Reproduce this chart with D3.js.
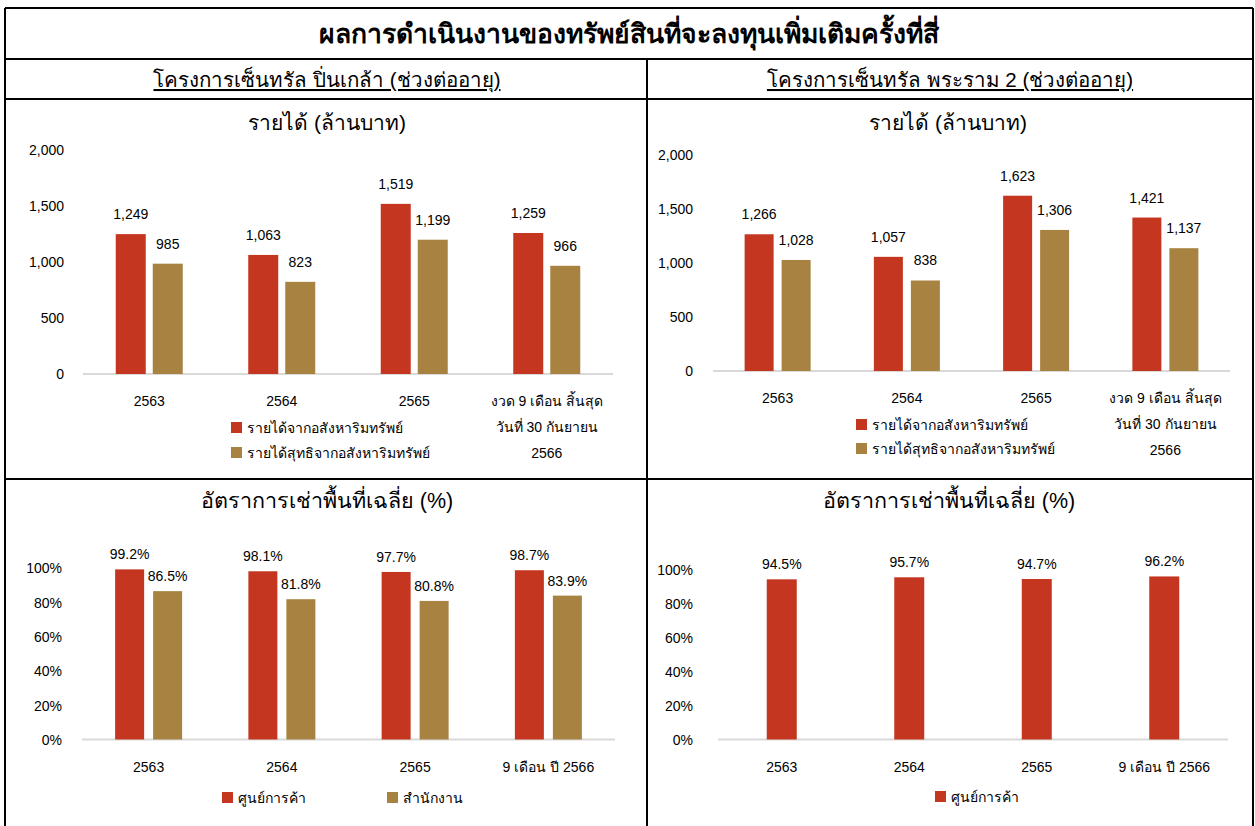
<!DOCTYPE html>
<html>
<head>
<meta charset="utf-8">
<script src="https://cdn.jsdelivr.net/npm/d3@7"></script>
<style>
html,body{margin:0;padding:0;background:#fff;}
svg{display:block;}
text{font-family:"Liberation Sans",Arial,"Noto Sans",sans-serif;fill:#000;}
</style>
</head>
<body>
<svg id="chart" width="1255" height="826"></svg>
<script>
// ---------- data ----------
const mainTitle = "ผลการดำเนินงานของทรัพย์สินที่จะลงทุนเพิ่มเติมครั้งที่สี่";
const projectTitles = ["โครงการเซ็นทรัล ปิ่นเกล้า (ช่วงต่ออายุ)", "โครงการเซ็นทรัล พระราม 2 (ช่วงต่ออายุ)"];
const revenueTitle = "รายได้ (ล้านบาท)";
const occupancyTitle = "อัตราการเช่าพื้นที่เฉลี่ย (%)";

const revenueCategories = [["2563"], ["2564"], ["2565"], ["งวด 9 เดือน สิ้นสุด", "วันที่ 30 กันยายน", "2566"]];
const occupancyCategories = ["2563", "2564", "2565", "9 เดือน ปี 2566"];

const revenueSeriesNames = ["รายได้จากอสังหาริมทรัพย์", "รายได้สุทธิจากอสังหาริมทรัพย์"];
const occupancySeriesNames = ["ศูนย์การค้า", "สำนักงาน"];

const pinklaoRevenue = [1249, 1063, 1519, 1259];
const pinklaoNetRevenue = [985, 823, 1199, 966];
const rama2Revenue = [1266, 1057, 1623, 1421];
const rama2NetRevenue = [1028, 838, 1306, 1137];

const pinklaoRetailOcc = [99.2, 98.1, 97.7, 98.7];
const pinklaoOfficeOcc = [86.5, 81.8, 80.8, 83.9];
const rama2RetailOcc = [94.5, 95.7, 94.7, 96.2];

const revenueTicks = [0, 500, 1000, 1500, 2000];
const occupancyTicks = [0, 20, 40, 60, 80, 100];

const RED = "#C4361F";
const GOLD = "#A88240";

// ---------- drawing ----------
const svg = d3.select("#chart");

// frame
const frame = svg.append("g").attr("stroke", "#000").attr("stroke-width", 2).attr("fill", "none");
frame.append("line").attr("x1", 5).attr("x2", 1253).attr("y1", 8).attr("y2", 8);
frame.append("line").attr("x1", 5).attr("x2", 5).attr("y1", 8).attr("y2", 826);
frame.append("line").attr("x1", 1253).attr("x2", 1253).attr("y1", 8).attr("y2", 826);
frame.append("line").attr("x1", 5).attr("x2", 1253).attr("y1", 59).attr("y2", 59);
frame.append("line").attr("x1", 5).attr("x2", 1253).attr("y1", 99).attr("y2", 99);
frame.append("line").attr("x1", 5).attr("x2", 1253).attr("y1", 479).attr("y2", 479);
frame.append("line").attr("x1", 647).attr("x2", 647).attr("y1", 59).attr("y2", 826);

svg.append("text").attr("x", 629).attr("y", 43).attr("text-anchor", "middle")
  .style("font-size", "26.5px").style("font-weight", "bold").text(mainTitle);

const subX = [327, 950];
projectTitles.forEach((t, i) => {
  svg.append("text").attr("x", subX[i]).attr("y", 87).attr("text-anchor", "middle")
    .style("font-size", "20.5px").style("text-decoration", "underline").text(t);
});

function drawChart(opt) {
  const g = svg.append("g");
  g.append("text").attr("x", opt.titleX).attr("y", opt.titleY).attr("text-anchor", "middle")
    .style("font-size", opt.titleSize).text(opt.title);

  const x = d3.scaleBand().domain(d3.range(opt.series[0].length)).range([opt.x0, opt.x1]);
  const y = d3.scaleLinear().domain([opt.ticks[0], opt.ticks[opt.ticks.length - 1]]).range([opt.yBottom, opt.yTop]);

  // y axis labels
  const yAxis = d3.axisLeft(y).tickValues(opt.ticks).tickSize(0).tickPadding(0).tickFormat(opt.tickFormat);
  const ya = g.append("g").attr("transform", `translate(${opt.yLabelX},0)`).call(yAxis);
  ya.select(".domain").remove();
  ya.selectAll("text").style("font-size", "14px").style("font-family", '"Liberation Sans",Arial,sans-serif').attr("fill", "#000").attr("dy", "0.35em");

  // baseline
  g.append("line").attr("x1", opt.x0).attr("x2", opt.x1).attr("y1", y(0)).attr("y2", y(0))
    .attr("stroke", "#D9D9D9").attr("stroke-width", 2);

  const n = opt.series.length;
  const bw = opt.barWidth, gap = opt.gap;
  const total = n * bw + (n - 1) * gap;
  opt.series.forEach((vals, si) => {
    const off = -total / 2 + si * (bw + gap);
    g.selectAll(null).data(vals).enter().append("rect")
      .attr("x", (d, i) => x(i) + x.bandwidth() / 2 + off)
      .attr("y", d => y(d))
      .attr("width", bw)
      .attr("height", d => y(0) - y(d))
      .attr("fill", opt.colors[si]);
    g.selectAll(null).data(vals).enter().append("text")
      .attr("x", (d, i) => x(i) + x.bandwidth() / 2 + off + bw / 2)
      .attr("y", d => y(d) - opt.labelGap)
      .attr("text-anchor", "middle")
      .style("font-size", "14px")
      .text(opt.valueFormat);
  });

  // category labels
  opt.categories.forEach((lines, i) => {
    const arr = Array.isArray(lines) ? lines : [lines];
    arr.forEach((ln, k) => {
      g.append("text").attr("x", x(i) + x.bandwidth() / 2).attr("y", opt.catY + k * opt.catLine)
        .attr("text-anchor", "middle").style("font-size", "14px").text(ln);
    });
  });

  // legend
  opt.legend.forEach((it, i) => {
    g.append("rect").attr("x", it.x).attr("y", it.y - 6).attr("width", 11).attr("height", 11).attr("fill", opt.colors[i]);
    g.append("text").attr("x", it.x + 16).attr("y", it.y).attr("dy", "0.35em")
      .style("font-size", "14px").text(opt.seriesNames[i]);
  });
}

drawChart({
  title: revenueTitle, titleX: 327, titleY: 130, titleSize: "21px",
  series: [pinklaoRevenue, pinklaoNetRevenue], colors: [RED, GOLD], seriesNames: revenueSeriesNames,
  x0: 83, x1: 613, yBottom: 374, yTop: 150, yLabelX: 64, ticks: revenueTicks,
  tickFormat: d3.format(","), valueFormat: d => d3.format(",")(d), labelGap: 15,
  barWidth: 30, gap: 7, categories: revenueCategories, catY: 406, catLine: 26,
  legend: [{x: 231, y: 428}, {x: 231, y: 453}]
});

drawChart({
  title: revenueTitle, titleX: 948, titleY: 130, titleSize: "21px",
  series: [rama2Revenue, rama2NetRevenue], colors: [RED, GOLD], seriesNames: revenueSeriesNames,
  x0: 713, x1: 1230, yBottom: 371, yTop: 155, yLabelX: 693, ticks: revenueTicks,
  tickFormat: d3.format(","), valueFormat: d => d3.format(",")(d), labelGap: 15,
  barWidth: 29, gap: 8, categories: revenueCategories, catY: 403, catLine: 26,
  legend: [{x: 856, y: 425}, {x: 856, y: 449}]
});

drawChart({
  title: occupancyTitle, titleX: 327, titleY: 508, titleSize: "21.5px",
  series: [pinklaoRetailOcc, pinklaoOfficeOcc], colors: [RED, GOLD], seriesNames: occupancySeriesNames,
  x0: 82, x1: 615, yBottom: 739.5, yTop: 568, yLabelX: 62, ticks: occupancyTicks,
  tickFormat: d => d + "%", valueFormat: d => d.toFixed(1) + "%", labelGap: 10,
  barWidth: 29, gap: 9, categories: occupancyCategories, catY: 772, catLine: 26,
  legend: [{x: 222, y: 798}, {x: 387, y: 798}]
});

drawChart({
  title: occupancyTitle, titleX: 949, titleY: 508, titleSize: "21.5px",
  series: [rama2RetailOcc], colors: [RED], seriesNames: occupancySeriesNames,
  x0: 718, x1: 1228, yBottom: 739.5, yTop: 570, yLabelX: 693, ticks: occupancyTicks,
  tickFormat: d => d + "%", valueFormat: d => d.toFixed(1) + "%", labelGap: 10,
  barWidth: 30, gap: 0, categories: occupancyCategories, catY: 772, catLine: 26,
  legend: [{x: 935, y: 797}]
});
</script>
</body>
</html>
